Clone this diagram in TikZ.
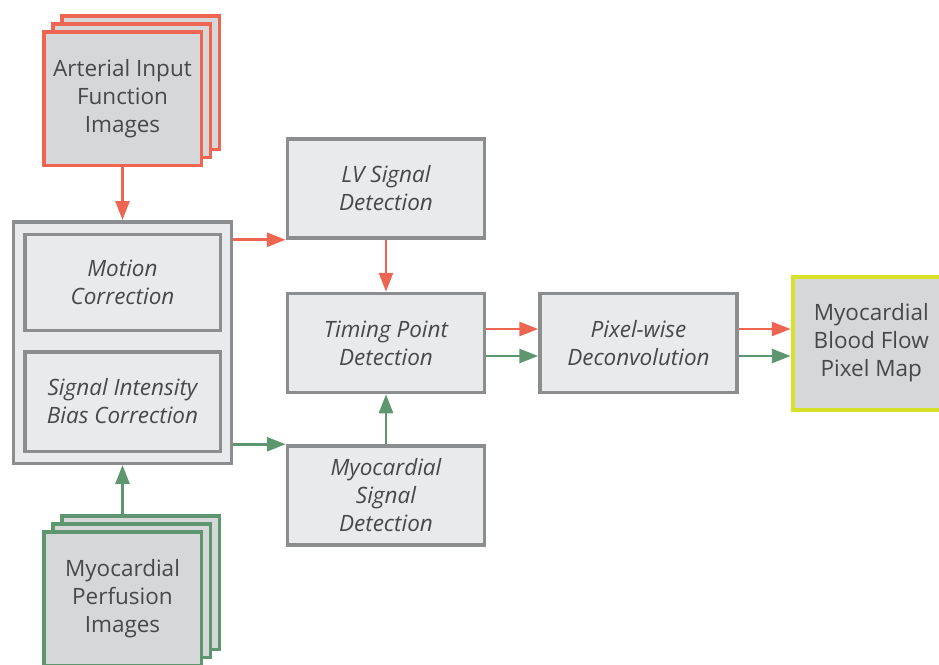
\documentclass[tikz,border=0pt]{standalone}
\usepackage{fontspec}
\setmainfont{Open Sans}
\usepackage{tikz}
\usetikzlibrary{positioning,arrows.meta}
\definecolor{aifred}{RGB}{238,102,82}
\definecolor{mpgreen}{RGB}{94,150,112}
\definecolor{boxgray}{RGB}{140,141,143}
\definecolor{procfill}{RGB}{233,234,236}
\definecolor{imgfill}{RGB}{214,215,217}
\definecolor{mbfyellow}{RGB}{214,224,40}
\definecolor{txtgray}{RGB}{72,72,74}
\newcommand\boxfont{\fontsize{22.5}{28}\selectfont}
\tikzset{x=1pt,y=-1pt,node distance=52pt,
  every node/.style={text=txtgray,align=center,font=\boxfont},
  proc/.style={draw=boxgray,fill=procfill,line width=3.5pt,minimum width=197pt,minimum height=99pt,font=\boxfont\itshape},
  img/.style={fill=imgfill,line width=3.5pt,minimum width=157.5pt,minimum height=133.5pt},
  redimg/.style={img,draw=aifred},
  greenimg/.style={img,draw=mpgreen},
  red arrow/.style={draw=aifred,line width=2.8pt,-{Triangle[length=19pt,width=14pt]}},
  green arrow/.style={draw=mpgreen,line width=2.8pt,-{Triangle[length=19pt,width=14pt]}}}
\begin{document}
\begin{tikzpicture}
    \useasboundingbox (0,0) rectangle (939,664);
    % image stacks
    \node[redimg] (aif2) at (140.5,82.5) {};
    \node[redimg] (aif1) at (131.5,90.5) {};
    \node[redimg] (aif) at (122.5,98.5) {Arterial Input\\Function\\Images};
    \node[greenimg] (pmi2) at (140.5,582.5) {};
    \node[greenimg] (pmi1) at (131.5,590.5) {};
    \node[greenimg] (pmi) at (122.5,598.5) {Myocardial\\Perfusion\\Images};
    % corrections
    \node[proc,minimum width=218pt,minimum height=241.5pt] (cor) at (122.5,342.5) {};
    \node[proc,minimum width=195.5pt,minimum height=96pt] (mc) at (122.5,282.5) {Motion\\Correction};
    \node[proc,minimum width=195.5pt,minimum height=99.5pt] (sib) at (122.5,401.5) {Signal Intensity\\Bias Correction};
    % processing
    \node[proc] (tp) at (386,343) {Timing Point\\Detection};
    \node[proc] (lv) [above=of tp] {LV Signal\\Detection};
    \node[proc] (ms) [below=50pt of tp] {Myocardial\\Signal\\Detection};
    \node[proc] (pw) [right=of tp] {Pixel-wise\\Deconvolution};
    \node[img,draw=mbfyellow,line width=4pt,minimum width=157pt,minimum height=133pt] (mbf) [right=of pw] {Myocardial\\Blood Flow\\Pixel Map};
    \path
    (aif) edge[red arrow] (cor)
    (cor.south |- pmi2.north) edge[green arrow] (cor.south)
    (cor.east |- lv.south west) edge[red arrow] (lv.south west)
    (cor.east |- ms.north west) edge[green arrow] (ms.north west)
    (lv) edge[red arrow] (tp)
    (ms) edge[green arrow] (tp)
    ([yshift=14pt]tp.east) edge[red arrow] ([yshift=14pt]pw.west)
    ([yshift=-13pt]tp.east) edge[green arrow] ([yshift=-13pt]pw.west)
    ([yshift=14pt]pw.east) edge[red arrow] ([yshift=14pt]mbf.west)
    ([yshift=-13pt]pw.east) edge[green arrow] ([yshift=-13pt]mbf.west)
    ;
\end{tikzpicture}
\end{document}
